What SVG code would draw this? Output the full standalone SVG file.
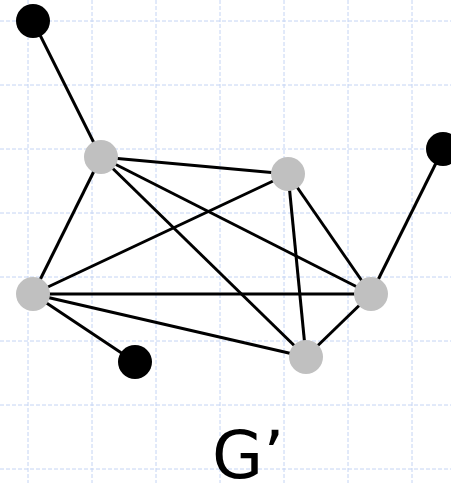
<svg xmlns="http://www.w3.org/2000/svg" width="451" height="483" viewBox="0 0 451 483">
<style>
.grid line{stroke:#c4d4f4;stroke-width:1;stroke-dasharray:4 2}
.edges line{stroke:#000;stroke-width:3}
.gray{fill:#c0c0c0}
.black{fill:#000}
.label{font-family:"DejaVu Sans",Verdana,sans-serif;font-size:66px;fill:#000}
</style>
<rect width="451" height="483" fill="#fff"/>
<g class="grid">
<line x1="28" y1="0" x2="28" y2="483"/>
<line x1="92" y1="0" x2="92" y2="483"/>
<line x1="156" y1="0" x2="156" y2="483"/>
<line x1="220" y1="0" x2="220" y2="483"/>
<line x1="284" y1="0" x2="284" y2="483"/>
<line x1="348" y1="0" x2="348" y2="483"/>
<line x1="412" y1="0" x2="412" y2="483"/>
<line x1="0" y1="21" x2="451" y2="21"/>
<line x1="0" y1="85" x2="451" y2="85"/>
<line x1="0" y1="149" x2="451" y2="149"/>
<line x1="0" y1="213" x2="451" y2="213"/>
<line x1="0" y1="277" x2="451" y2="277"/>
<line x1="0" y1="341" x2="451" y2="341"/>
<line x1="0" y1="405" x2="451" y2="405"/>
<line x1="0" y1="469" x2="451" y2="469"/>
</g>
<g id="connectors" class="edges">
<line x1="33" y1="21" x2="101" y2="157"/>
<line x1="443" y1="149" x2="371" y2="294"/>
<line x1="135" y1="362" x2="33" y2="294"/>
<line x1="101" y1="157" x2="288" y2="174"/>
<line x1="101" y1="157" x2="33" y2="294"/>
<line x1="101" y1="157" x2="371" y2="294"/>
<line x1="101" y1="157" x2="306" y2="357"/>
<line x1="288" y1="174" x2="33" y2="294"/>
<line x1="288" y1="174" x2="371" y2="294"/>
<line x1="288" y1="174" x2="306" y2="357"/>
<line x1="33" y1="294" x2="371" y2="294"/>
<line x1="33" y1="294" x2="306" y2="357"/>
<line x1="371" y1="294" x2="306" y2="357"/>
</g>
<g id="n1"><circle class="black" cx="33" cy="21" r="17"/></g>
<g id="n2"><circle class="black" cx="443" cy="149" r="17"/></g>
<g id="n3"><circle class="black" cx="135" cy="362" r="17"/></g>
<g id="a"><circle class="gray" cx="101" cy="157" r="17"/></g>
<g id="b"><circle class="gray" cx="288" cy="174" r="17"/></g>
<g id="c"><circle class="gray" cx="33" cy="294" r="17"/></g>
<g id="d"><circle class="gray" cx="371" cy="294" r="17"/></g>
<g id="e"><circle class="gray" cx="306" cy="357" r="17"/></g>
<g id="label"><text class="label" x="212" y="478">G’</text></g>
</svg>
